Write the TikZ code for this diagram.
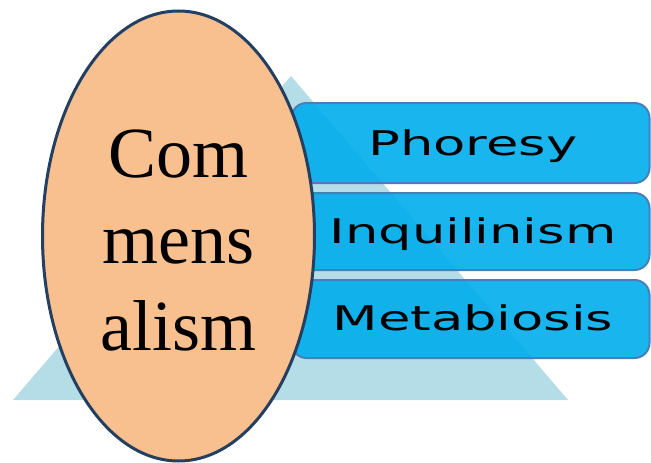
\documentclass[tikz,border=0pt]{standalone}
\usepackage{fontspec}
\setmainfont{Liberation Serif}
\newfontfamily\boxfont{DejaVu Sans}
\usetikzlibrary{shapes.geometric}
\definecolor{tri}{HTML}{B5DDE8}
\definecolor{boxfill}{HTML}{00ADED}
\definecolor{boxline}{HTML}{4A7EBB}
\definecolor{ellfill}{HTML}{F8BF8F}
\definecolor{ellline}{HTML}{243F60}
\tikzset{
  itembox/.style={draw=boxline, line width=2pt, fill=boxfill, fill opacity=0.9, draw opacity=1,
    rounded corners=15pt, minimum width=358pt, inner sep=0pt},
  itemtext/.style={anchor=base, inner sep=0pt, font=\boxfont\fontsize{34}{40}\selectfont},
  ringtext/.style={anchor=base, inner sep=0pt, font=\fontsize{72}{86}\selectfont}
}
\begin{document}
\begin{tikzpicture}[x=1pt,y=-1pt]
\useasboundingbox (0,0) rectangle (651,463);
\fill[tri] (291,76) -- (568,400) -- (13,400) -- cycle;
\node[itembox, minimum height=80pt] (b1) at (470.5,143) {};
\node[itembox, minimum height=77pt] (b2) at (470.5,231.5) {};
\node[itembox, minimum height=78pt] (b3) at (470.5,319) {};
\node[itemtext] (t1) at (473,155) {\scalebox{1.55}[1]{Phoresy}};
\node[itemtext] (t2) at (473,243) {\scalebox{1.55}[1]{Inquilinism}};
\node[itemtext] (t3) at (473,330) {\scalebox{1.55}[1]{Metabiosis}};
\node[ellipse, draw=ellline, line width=3pt, fill=ellfill, minimum width=272pt, minimum height=450pt, inner sep=0pt] (ell) at (178.5,236) {};
\node[ringtext] (c1) at (178.5,177) {Com};
\node[ringtext] (c2) at (178.5,263) {mens};
\node[ringtext] (c3) at (178.5,350) {alism};
\end{tikzpicture}
\end{document}
